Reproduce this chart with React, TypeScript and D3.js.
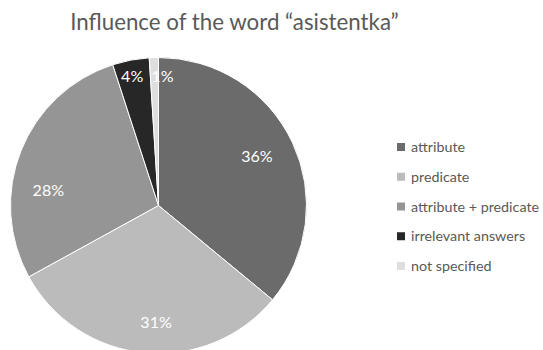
import React from "react";
import * as d3 from "d3";

const categories = ["attribute", "predicate", "attribute + predicate", "irrelevant answers", "not specified"];
const values = [36, 31, 28, 4, 1];
const colors = ["#6b6b6b", "#bbbbbb", "#959595", "#272727", "#dedede"];
const title = "Influence of the word \u201casistentka\u201d";

// layout
const W = 543, H = 350;
const cx = 158.5, cy = 205.5, R = 148;
const labelNudge: [number, number][] = [[-2, -2], [8, 6], [-7, 26], [-2, -1], [8, 1]];
const FONT = "Lato, 'Open Sans', sans-serif";

export default function App() {
  const data = categories.map((c, i) => ({ c, v: values[i], col: colors[i] }));
  const pie = d3.pie<any>().sort(null).value((d) => d.v);
  const arcs = pie(data);
  const arc = d3.arc<any>().innerRadius(0).outerRadius(R);
  const total = d3.sum(values);
  const labelArc = (a: any) => {
    const big = (a.data.v / total) > 0.1;
    const r = big ? 111 : 130;
    return d3.arc<any>().innerRadius(r).outerRadius(r).centroid(a);
  };
  const legendY = d3.scalePoint<string>().domain(categories).range([147, 266]);
  return (
    <svg width={W} height={H} style={{ position: "absolute", left: 0, top: 0, display: "block" }}>
      <rect width={W} height={H} fill="#fff" />
      <text x={234.5} y={30} textAnchor="middle" fontFamily={FONT} fontSize={22.3} fill="#595959">{title}</text>
      <g transform={`translate(${cx},${cy})`}>
        {arcs.map((a, i) => (
          <path key={i} d={arc(a) || ""} fill={a.data.col} stroke="#fff" strokeWidth={1} />
        ))}
        {arcs.map((a, i) => {
          const [x, y] = labelArc(a);
          return (
            <text key={"l" + i} x={x + labelNudge[i][0]} y={y + labelNudge[i][1]} dy="0.35em" textAnchor="middle"
              fontFamily={FONT} fontSize={16} fill="#fff">
              {Math.round((a.data.v / total) * 100)}%
            </text>
          );
        })}
      </g>
      {categories.map((c, i) => (
        <g key={c} transform={`translate(397,${legendY(c)})`}>
          <rect x={0} y={-4} width={8} height={8} fill={colors[i]} />
          <text x={14} y={0} dy="0.35em" fontFamily={FONT} fontSize={14.3} fill="#595959">{c}</text>
        </g>
      ))}
    </svg>
  );
}
